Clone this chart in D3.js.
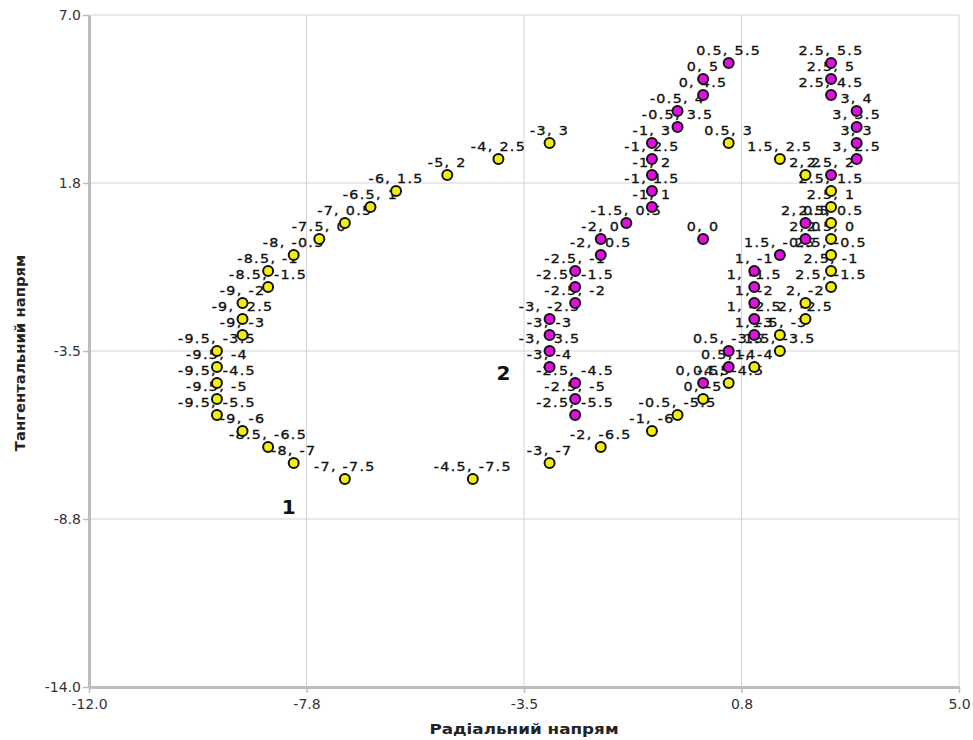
<!DOCTYPE html>
<html>
<head>
<meta charset="utf-8">
<script src="https://cdn.jsdelivr.net/npm/d3@7"></script>
<style>
  html, body { margin: 0; padding: 0; background: #fff; }
  svg { display: block; }
</style>
</head>
<body>
<svg id="chart" width="973" height="740"></svg>
<script>
// ---- data ----
const yellowX = [0.5, 1.5, 2, 2.5, 2.5, 2.5, 2.5, 2.5, 2.5, 2.5, 2, 2, 1.5, 1.5, 1, 0.5, 0, -0.5, -1, -2, -3, -4.5,
  -7, -8, -8.5, -9, -9.5, -9.5, -9.5, -9.5, -9.5, -9, -9, -9, -8.5, -8.5, -8, -7.5, -7, -6.5, -6, -5, -4, -3];
const yellowY = [3, 2.5, 2, 1.5, 1, 0.5, 0, -0.5, -1, -1.5, -2, -2.5, -3, -3.5, -4, -4.5, -5, -5.5, -6, -6.5, -7, -7.5,
  -7.5, -7, -6.5, -6, -5.5, -5, -4.5, -4, -3.5, -3, -2.5, -2, -1.5, -1, -0.5, 0, 0.5, 1, 1.5, 2, 2.5, 3];

const magentaX = [0, 0.5, 0, 0, -0.5, -0.5, -1, -1, -1, -1, -1, -1.5, -2, -2, -2.5, -2.5, -2.5, -3, -3, -3, -3, -2.5, -2.5, -2.5,
  2.5, 2.5, 2.5, 3, 3, 3, 3, 2.5, 2, 2, 1.5, 1, 1, 1, 1, 1, 0.5, 0.5, 0];
const magentaY = [0, 5.5, 5, 4.5, 4, 3.5, 3, 2.5, 2, 1.5, 1, 0.5, 0, -0.5, -1, -1.5, -2, -2.5, -3, -3.5, -4, -4.5, -5, -5.5,
  5.5, 5, 4.5, 4, 3.5, 3, 2.5, 2, 0.5, 0, -0.5, -1, -1.5, -2, -2.5, -3, -3.5, -4, -4.5];

const xTickValues = [-12, -7.75, -3.5, 0.75, 5];
const xTickLabels = ["-12.0", "-7.8", "-3.5", "0.8", "5.0"];
const yTickValues = [-14, -8.75, -3.5, 1.75, 7];
const yTickLabels = ["-14.0", "-8.8", "-3.5", "1.8", "7.0"];

const xTitle = "Радіальний напрям";
const yTitle = "Тангентальний напрям";
const annotations = [{text: "1", x: -8.1, y: -8.6}, {text: "2", x: -3.9, y: -4.4}];

// ---- layout ----
const svg = d3.select("#chart");
const mLeft = 89, mRight = 959, mTop = 15, mBottom = 687;
const x = d3.scaleLinear().domain([-12, 5]).range([mLeft, mRight]);
const y = d3.scaleLinear().domain([-14, 7]).range([mBottom, mTop]);
const FONT = "DejaVu Sans, Verdana, sans-serif";

// gridlines
const grid = svg.append("g");
grid.selectAll("line.vx").data(xTickValues.slice(1)).join("line")
  .attr("x1", d => x(d)).attr("x2", d => x(d)).attr("y1", mTop).attr("y2", mBottom)
  .attr("stroke", "#d4d4d4").attr("stroke-width", 1);
grid.selectAll("line.hy").data(yTickValues.slice(1)).join("line")
  .attr("x1", mLeft).attr("x2", mRight).attr("y1", d => y(d)).attr("y2", d => y(d))
  .attr("stroke", "#d4d4d4").attr("stroke-width", 1);

// axes
const xAxis = d3.axisBottom(x).tickValues(xTickValues).tickFormat((d, i) => xTickLabels[i]).tickSize(6).tickSizeOuter(0);
const yAxis = d3.axisLeft(y).tickValues(yTickValues).tickFormat((d, i) => yTickLabels[i]).tickSize(6).tickSizeOuter(0);

const gx = svg.append("g").attr("transform", `translate(0,${mBottom})`).call(xAxis);
const gy = svg.append("g").attr("transform", `translate(${mLeft},0)`).call(yAxis);
[gx, gy].forEach(g => {
  g.select(".domain").attr("stroke", "#bdbdbd").attr("stroke-width", 3);
  g.selectAll(".tick line").attr("stroke", "#bdbdbd").attr("stroke-width", 1.5);
  g.selectAll(".tick text").attr("fill", "#333").attr("font-family", FONT).attr("font-size", 14);
});
gx.selectAll(".tick text").attr("dy", "0.95em");
gy.selectAll(".tick text").attr("x", -8);

// titles
svg.append("text").attr("transform", "translate(524,734) scale(1.2,1)")
  .attr("text-anchor", "middle").attr("font-family", FONT)
  .attr("font-weight", "bold").attr("font-size", 14).attr("fill", "#222").text(xTitle);
svg.append("text").attr("transform", "translate(25,353) rotate(-90) scale(1.1,1)")
  .attr("text-anchor", "middle").attr("font-family", FONT)
  .attr("font-weight", "bold").attr("font-size", 13.5).attr("fill", "#222").text(yTitle);

// build point records
const yellowPts = yellowX.map((v, i) => ({x: v, y: yellowY[i], c: "#f0ef10"}));
const magentaPts = magentaX.map((v, i) => ({x: v, y: magentaY[i], c: "#e010e0"}));
const allPts = yellowPts.concat(magentaPts);

// labels (under the points)
svg.append("g").selectAll("text").data(allPts).join("text")
  .attr("transform", d => `translate(${x(d.x)},${y(d.y) - 8.5}) scale(1.1,1)`)
  .attr("text-anchor", "middle")
  .attr("font-family", FONT)
  .attr("font-size", 13).attr("letter-spacing", "1.2px")
  .attr("fill", "#111").attr("stroke", "#111").attr("stroke-width", 0.35)
  .text(d => `${d.x}, ${d.y}`);

// points
svg.append("g").selectAll("circle").data(allPts).join("circle")
  .attr("cx", d => x(d.x)).attr("cy", d => y(d.y)).attr("r", 5)
  .attr("fill", d => d.c).attr("stroke", "#111").attr("stroke-width", 2);

// annotations
svg.append("g").selectAll("text").data(annotations).join("text")
  .attr("x", d => x(d.x)).attr("y", d => y(d.y))
  .attr("text-anchor", "middle").attr("font-family", FONT)
  .attr("font-weight", "bold").attr("font-size", 20).attr("fill", "#111")
  .text(d => d.text);
</script>
</body>
</html>
